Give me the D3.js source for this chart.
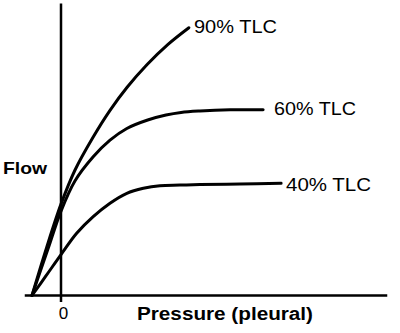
<!DOCTYPE html>
<html><head><meta charset="utf-8">
<script src="https://cdn.jsdelivr.net/npm/d3@7"></script>
<style>html,body{margin:0;padding:0;background:#fff;}svg{display:block;}</style>
</head><body>
<svg id="c" width="400" height="333"></svg>
<script>
// Data (arbitrary pressure / flow units)
const seriesNames = ["90% TLC", "60% TLC", "40% TLC"];
const pressure90 = [-1, -0.5, 0, 0.48, 1.10, 1.69, 2.28, 2.97, 3.69, 4.41];
const flow90     = [0, 1.63, 3.13, 4.29, 5.41, 6.34, 7.13, 7.91, 8.60, 9.17];
const pressure60 = [-1, -0.45, 0, 0.48, 1.11, 1.69, 2.27, 2.99, 3.62, 4.14, 4.79, 5.83, 6.97];
const flow60     = [0, 1.59, 2.89, 3.92, 4.75, 5.32, 5.72, 6.01, 6.18, 6.27, 6.32, 6.36, 6.36];
const pressure40 = [-1, -0.52, 0, 0.54, 1.11, 1.69, 2.27, 2.84, 3.41, 4.10, 4.79, 6.17, 7.59];
const flow40     = [0, 0.67, 1.40, 2.13, 2.70, 3.16, 3.50, 3.67, 3.76, 3.78, 3.80, 3.82, 3.84];
const xTickValues = [0];
const xTickLabels = ["0"];
const xTitle = "Pressure (pleural)";
const yTitle = "Flow";

const svg = d3.select("#c");
const x = d3.scaleLinear().domain([-1.25, 11.25]).range([24.75, 387.25]);
const y = d3.scaleLinear().domain([0, 10]).range([295.5, 3.5]);

// axes lines
svg.append("line").attr("x1", x(-1.25)).attr("x2", x(11.25)).attr("y1", y(0)).attr("y2", y(0))
  .attr("stroke", "#000").attr("stroke-width", 2.5);
svg.append("line").attr("x1", x(0)).attr("x2", x(0)).attr("y1", y(-0.22)).attr("y2", y(10))
  .attr("stroke", "#000").attr("stroke-width", 2.5);

// tick label via axis
const xAxis = d3.axisBottom(x).tickValues(xTickValues).tickFormat((d, i) => xTickLabels[i]).tickSize(0).tickPadding(0);
const gx = svg.append("g").attr("transform", `translate(0,${y(0)})`).call(xAxis);
gx.select(".domain").remove();
gx.selectAll("text").attr("dy", null).attr("y", 23.5)
  .attr("font-family", "Liberation Sans, Arial, sans-serif").attr("font-size", 17).attr("fill", "#000")
  .attr("dx", 2);

const line = d3.line().x(d => x(d[0])).y(d => y(d[1])).curve(d3.curveCatmullRom.alpha(0.5));
const series = [
  {name: seriesNames[0], p: pressure90, f: flow90, lx: 194, ly: 32.7, lw: 83},
  {name: seriesNames[1], p: pressure60, f: flow60, lx: 274, ly: 115, lw: 82},
  {name: seriesNames[2], p: pressure40, f: flow40, lx: 286, ly: 191, lw: 85}
];
series.forEach(s => {
  svg.append("path").datum(s.p.map((v, i) => [v, s.f[i]])).attr("d", line)
    .attr("fill", "none").attr("stroke", "#000").attr("stroke-width", 3).attr("stroke-linecap", "round");
  svg.append("text").attr("x", s.lx).attr("y", s.ly).text(s.name)
    .attr("font-family", "Liberation Sans, Arial, sans-serif").attr("font-size", 18)
    .attr("textLength", s.lw).attr("lengthAdjust", "spacingAndGlyphs").attr("fill", "#000");
});

svg.append("text").attr("x", 3).attr("y", 174).text(yTitle)
  .attr("font-family", "Liberation Sans, Arial, sans-serif").attr("font-weight", "bold").attr("font-size", 17)
  .attr("textLength", 44).attr("lengthAdjust", "spacingAndGlyphs");
svg.append("text").attr("x", 137).attr("y", 319.5).text(xTitle)
  .attr("font-family", "Liberation Sans, Arial, sans-serif").attr("font-weight", "bold").attr("font-size", 17.5)
  .attr("textLength", 176).attr("lengthAdjust", "spacingAndGlyphs");
</script>
</body></html>
